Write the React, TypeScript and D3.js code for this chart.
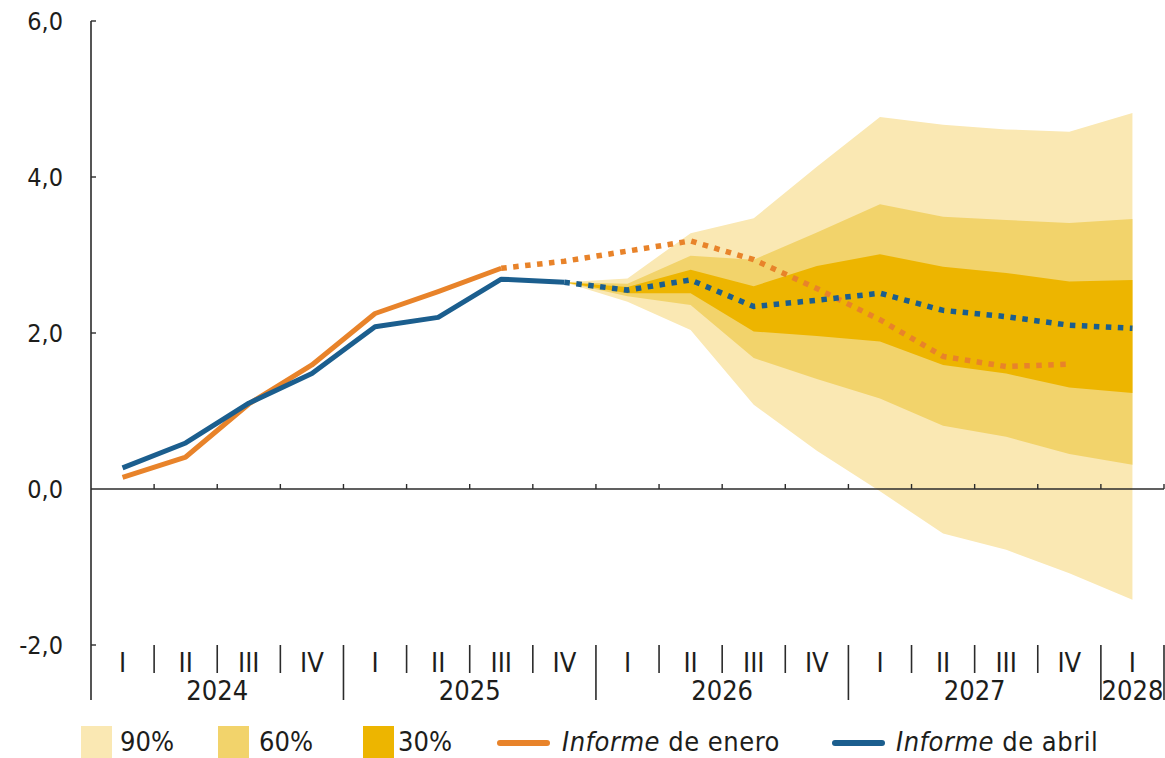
import React from "react";
import * as d3 from "d3";

// ---- Data ----
const years = ["2024", "2025", "2026", "2027", "2028"];
const quartersPerYear = [4, 4, 4, 4, 1];
const quarterNames = ["I", "II", "III", "IV"];

// Solid (observed) series, starting at 2024 I
const eneroObserved = [0.15, 0.41, 1.09, 1.59, 2.25, 2.53, 2.83];
const abrilObserved = [0.27, 0.59, 1.1, 1.48, 2.08, 2.2, 2.69, 2.65];

// Projections (dotted)
const eneroStart = 6; // 2025 III
const eneroProjection = [2.83, 2.92, 3.05, 3.18, 2.94, 2.57, 2.17, 1.7, 1.57, 1.6];
const abrilStart = 7; // 2025 IV
const abrilProjection = [2.65, 2.55, 2.68, 2.34, 2.42, 2.51, 2.29, 2.21, 2.1, 2.06];

// Fan chart bands (2025 IV .. 2028 I)
const fanStart = 7;
const upper90 = [2.65, 2.7, 3.28, 3.47, 4.13, 4.77, 4.67, 4.61, 4.58, 4.82];
const upper60 = [2.65, 2.63, 2.99, 2.94, 3.29, 3.65, 3.49, 3.45, 3.41, 3.46];
const upper30 = [2.65, 2.59, 2.81, 2.6, 2.86, 3.01, 2.85, 2.77, 2.66, 2.68];
const lower30 = [2.65, 2.51, 2.51, 2.02, 1.96, 1.89, 1.59, 1.48, 1.3, 1.23];
const lower60 = [2.65, 2.47, 2.36, 1.68, 1.41, 1.16, 0.81, 0.67, 0.45, 0.31];
const lower90 = [2.65, 2.4, 2.04, 1.08, 0.49, -0.03, -0.57, -0.78, -1.08, -1.42];

const yTicks = [-2, 0, 2, 4, 6];
const bandLabels = ["90%", "60%", "30%"];

// ---- Styles ----
const W = 1165;
const H = 758;
const FONT = "'Liberation Sans Narrow', 'DejaVu Sans Condensed', Roboto, sans-serif";
const TEXT = "#1d1d1b";
const AXIS = "#2b2b2b";
const C90 = "#fae8b3";
const C60 = "#f2d36b";
const C30 = "#edb500";
const ORANGE = "#e8832a";
const BLUE = "#1b5e8e";

export default function App() {
  const nQ = d3.sum(quartersPerYear);
  const x = d3.scaleLinear().domain([0, nQ]).range([91, 1164]);
  const y = d3.scaleLinear().domain([-2, 6]).range([645, 21]);
  const xc = (i: number) => x(i + 0.5);

  const line = d3
    .line<[number, number]>()
    .x((d) => xc(d[0]))
    .y((d) => y(d[1]));

  const band = (up: number[], lo: number[]) =>
    d3
      .area<number>()
      .x((_, i) => xc(fanStart + i))
      .y0((_, i) => y(lo[i]))
      .y1((_, i) => y(up[i]))(up.map((_, i) => i)) || "";

  const pts = (arr: number[], start: number) =>
    arr.map((v, i) => [start + i, v] as [number, number]);

  // Category axis structure
  const quarters: { idx: number; name: string }[] = [];
  const yearSpans: { name: string; start: number; end: number }[] = [];
  let k = 0;
  years.forEach((yr, yi) => {
    const s = k;
    for (let q = 0; q < quartersPerYear[yi]; q++) {
      quarters.push({ idx: k, name: quarterNames[q] });
      k++;
    }
    yearSpans.push({ name: yr, start: s, end: k });
  });
  const yearBoundaries = new Set(yearSpans.map((s) => s.end));

  const y0 = y(0);
  const catTop = 645;

  const fmt = (v: number) => v.toFixed(1).replace(".", ",");

  const legendY = 742;
  const legendSwatches = [
    { label: bandLabels[0], color: C90, x: 81, tx: 120 },
    { label: bandLabels[1], color: C60, x: 218, tx: 259 },
    { label: bandLabels[2], color: C30, x: 363, tx: 398 },
  ];

  return (
    <svg
      width={W}
      height={H}
      style={{ position: "absolute", left: 0, top: 0, background: "#fff" }}
      fontFamily={FONT}
    >
      {/* fan */}
      <path d={band(upper90, lower90)} fill={C90} />
      <path d={band(upper60, lower60)} fill={C60} />
      <path d={band(upper30, lower30)} fill={C30} />

      {/* x axis at zero */}
      <line x1={x(0)} x2={x(nQ)} y1={y0} y2={y0} stroke={AXIS} strokeWidth={1.6} />
      {d3.range(1, nQ + 1).map((i) => (
        <line key={"xt" + i} x1={x(i)} x2={x(i)} y1={y0} y2={y0 - 5} stroke={AXIS} strokeWidth={1.4} />
      ))}

      {/* y axis */}
      <line x1={x(0)} x2={x(0)} y1={y(6)} y2={700} stroke={AXIS} strokeWidth={1.6} />
      {yTicks.map((t) => (
        <g key={"yt" + t}>
          {t !== 0 && <line x1={x(0)} x2={x(0) + 5} y1={y(t)} y2={y(t)} stroke={AXIS} strokeWidth={1.4} />}
          <text x={63} y={y(t)} dy="0.35em" textAnchor="end" fontSize={25} fill={TEXT}>
            {fmt(t)}
          </text>
        </g>
      ))}

      {/* category axis */}
      {d3.range(1, nQ + 1).map((i) => (
        <line
          key={"sep" + i}
          x1={x(i)}
          x2={x(i)}
          y1={catTop}
          y2={yearBoundaries.has(i) ? 700 : 673}
          stroke={AXIS}
          strokeWidth={1.6}
        />
      ))}
      {quarters.map((q) => (
        <text key={"q" + q.idx} x={xc(q.idx)} y={672} textAnchor="middle" fontSize={27} fill={TEXT}>
          {q.name}
        </text>
      ))}
      {yearSpans.map((s) => (
        <text key={"y" + s.name} x={(x(s.start) + x(s.end)) / 2} y={700} textAnchor="middle" fontSize={27} fill={TEXT}>
          {s.name}
        </text>
      ))}

      {/* lines */}
      <path d={line(pts(eneroObserved, 0)) || ""} fill="none" stroke={ORANGE} strokeWidth={5} strokeLinejoin="round" />
      <path
        d={line(pts(eneroProjection, eneroStart)) || ""}
        fill="none"
        stroke={ORANGE}
        strokeWidth={5.5}
        strokeDasharray="5.5 6.5"
      />
      <path d={line(pts(abrilObserved, 0)) || ""} fill="none" stroke={BLUE} strokeWidth={5} strokeLinejoin="round" />
      <path
        d={line(pts(abrilProjection, abrilStart)) || ""}
        fill="none"
        stroke={BLUE}
        strokeWidth={5.5}
        strokeDasharray="5.5 6.5"
      />

      {/* legend */}
      {legendSwatches.map((s) => (
        <g key={"lg" + s.label}>
          <rect x={s.x} y={726} width={31} height={32} fill={s.color} />
          <text x={s.tx} y={legendY} dy="0.35em" fontSize={27} fill={TEXT}>
            {s.label}
          </text>
        </g>
      ))}
      <line x1={500} x2={547} y1={743} y2={743} stroke={ORANGE} strokeWidth={6} strokeLinecap="round" />
      <text x={562} y={legendY} dy="0.35em" fontSize={27} letterSpacing={0.5} fill={TEXT}>
        <tspan fontStyle="italic">Informe</tspan> de enero
      </text>
      <line x1={835} x2={882} y1={743} y2={743} stroke={BLUE} strokeWidth={6} strokeLinecap="round" />
      <text x={896} y={legendY} dy="0.35em" fontSize={27} letterSpacing={0.5} fill={TEXT}>
        <tspan fontStyle="italic">Informe</tspan> de abril
      </text>
    </svg>
  );
}
